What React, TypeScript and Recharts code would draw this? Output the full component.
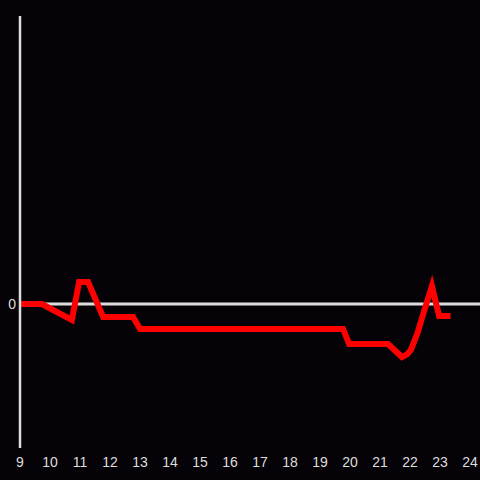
import React from 'react';
import { LineChart, Line, XAxis, YAxis, ReferenceLine } from 'recharts';

// hours of the day and the matching values
const hours = [9.0, 9.73, 10.73, 10.97, 11.27, 11.77, 12.77, 13.0, 19.77, 19.97, 21.27, 21.73, 21.9, 22.03, 22.25, 22.45, 22.73, 22.97, 23.35];
const values = [0, 0, -1.33, 1.83, 1.83, -1.08, -1.08, -2.08, -2.08, -3.33, -3.33, -4.42, -4.2, -3.83, -2.42, -0.75, 1.5, -1.0, -1.0];
const hourTicks = [9, 10, 11, 12, 13, 14, 15, 16, 17, 18, 19, 20, 21, 22, 23, 24];

const data = hours.map((t, i) => ({ t: t, v: values[i] }));

const axisColor = '#dddddd';
const tickStyle = { fontSize: 14, fill: axisColor, fontFamily: 'Liberation Sans, Arial, sans-serif' };

export default function App() {
	return (
		<div style={{ position: 'absolute', left: 0, top: 0, width: 480, height: 480, background: '#050307' }}>
			<LineChart width={480} height={480} data={data} margin={{ top: 16, right: 0, bottom: 0, left: 0 }}>
				<XAxis
					dataKey="t"
					type="number"
					domain={[9, 24.333]}
					ticks={hourTicks}
					axisLine={false}
					tickLine={false}
					tickSize={0}
					tick={tickStyle}
					tickMargin={9}
					height={32}
					interval={0}
				/>
				<YAxis
					type="number"
					domain={[-12, 24]}
					ticks={[0]}
					width={20}
					axisLine={{ stroke: axisColor, strokeWidth: 2.5 }}
					tickLine={false}
					tickSize={0}
					tick={tickStyle}
					tickMargin={4}
				/>
				<ReferenceLine y={0} stroke={axisColor} strokeWidth={3} />
				<Line
					type="linear"
					dataKey="v"
					stroke="#ff0000"
					strokeWidth={6}
					dot={false}
					strokeLinejoin="miter"
					isAnimationActive={false}
				/>
			</LineChart>
		</div>
	);
}
